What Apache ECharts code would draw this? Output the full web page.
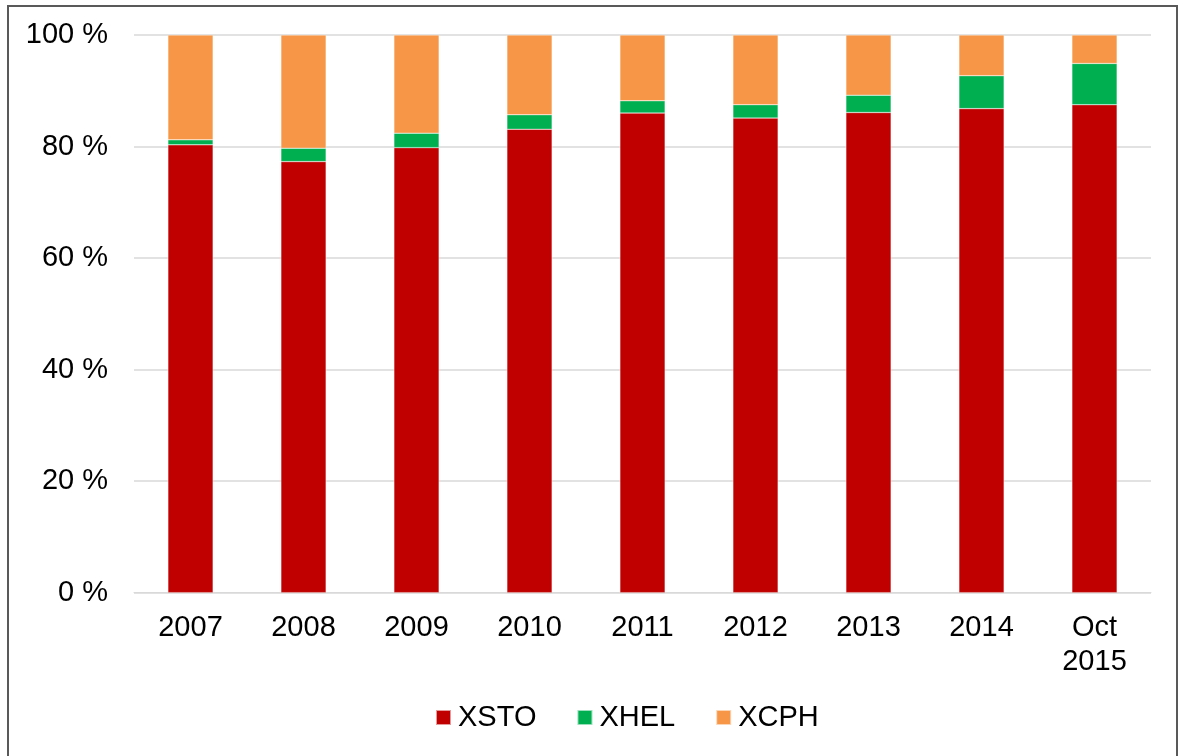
<!DOCTYPE html>
<html>
<head>
<meta charset="utf-8">
<script src="https://cdn.jsdelivr.net/npm/echarts@6/dist/echarts.min.js"></script>
<style>
html,body{margin:0;padding:0;background:#fff;}
#chart{width:1186px;height:756px;}
</style>
</head>
<body>
<div id="chart"></div>
<script>
const categories = ['2007','2008','2009','2010','2011','2012','2013','2014','Oct\n2015'];
const xsto = [80.3, 77.3, 79.8, 83.1, 86.0, 85.1, 86.1, 86.8, 87.5];
const xhel = [0.9, 2.4, 2.6, 2.6, 2.2, 2.4, 3.1, 5.9, 7.4];
const xcph = [18.8, 20.3, 17.6, 14.3, 11.8, 12.5, 10.8, 7.3, 5.1];
const yTicks = [0, 20, 40, 60, 80, 100];

const font = '"Liberation Sans", Arial, sans-serif';
const chart = echarts.init(document.getElementById('chart'));
const barStyle = { borderColor: 'rgba(255,255,255,0.6)', borderWidth: 0.5 };
chart.setOption({
  animation: false,
  textStyle: { fontFamily: font },
  graphic: [{
    type: 'rect',
    shape: { x: 8, y: 6, width: 1169, height: 770 },
    style: { fill: 'none', stroke: '#595959', lineWidth: 2 },
    silent: true
  }],
  grid: { left: 134, right: 35, top: 35, bottom: 163.3 },
  legend: {
    data: ['XSTO', 'XHEL', 'XCPH'],
    top: 703,
    left: 435,
    padding: 0,
    icon: 'rect',
    itemWidth: 15,
    itemHeight: 15,
    itemGap: 40,
    textStyle: { fontSize: 29, color: '#000', fontFamily: font, padding: [0, 0, 0, 2] }
  },
  xAxis: {
    type: 'category',
    data: categories,
    axisLine: { lineStyle: { color: '#D9D9D9', width: 1 } },
    axisTick: { show: false },
    axisLabel: { fontSize: 29, color: '#000', margin: 18, lineHeight: 34, fontFamily: font, interval: 0 }
  },
  yAxis: {
    type: 'value',
    min: yTicks[0],
    max: yTicks[yTicks.length - 1],
    interval: 20,
    axisLine: { show: false },
    axisTick: { show: false },
    splitLine: { lineStyle: { color: '#D9D9D9', width: 1.5 } },
    axisLabel: { fontSize: 29, color: '#000', margin: 26, fontFamily: font, formatter: '{value} %' }
  },
  series: [
    { name: 'XSTO', type: 'bar', stack: 'a', data: xsto, barWidth: '40%', itemStyle: Object.assign({ color: '#C00000' }, barStyle) },
    { name: 'XHEL', type: 'bar', stack: 'a', data: xhel, barWidth: '40%', itemStyle: Object.assign({ color: '#00B050' }, barStyle) },
    { name: 'XCPH', type: 'bar', stack: 'a', data: xcph, barWidth: '40%', itemStyle: Object.assign({ color: '#F79646' }, barStyle) }
  ]
});
</script>
</body>
</html>
